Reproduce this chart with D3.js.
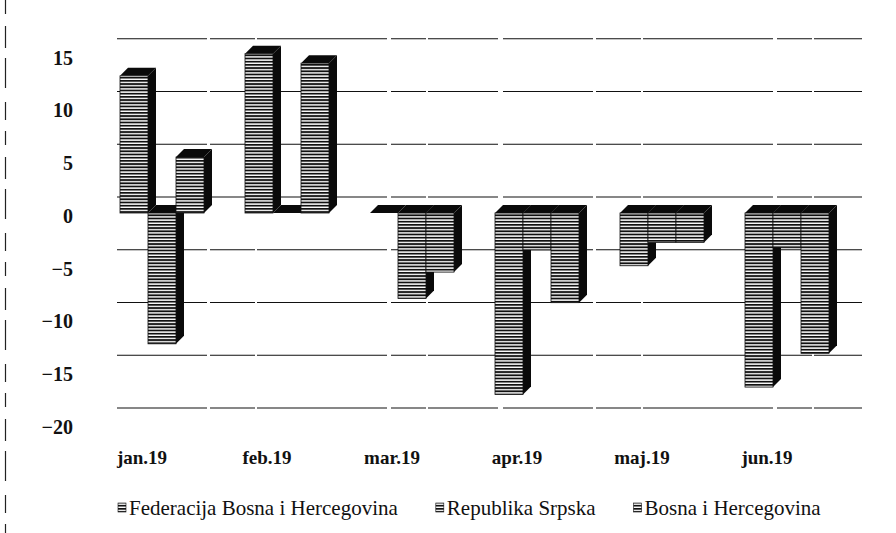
<!DOCTYPE html>
<html>
<head>
<meta charset="utf-8">
<script src="https://cdn.jsdelivr.net/npm/d3@7/dist/d3.min.js"></script>
<style>
  html, body { margin: 0; padding: 0; background: #fff; }
  svg { display: block; }
</style>
</head>
<body>
<svg id="chart" width="896" height="533"></svg>
<script>
const categories = ["jan.19", "feb.19", "mar.19", "apr.19", "maj.19", "jun.19"];
const seriesNames = ["Federacija Bosna i Hercegovina", "Republika Srpska", "Bosna i Hercegovina"];
const fbihValues = [13.0, 15.1, 0, -17.2, -5.0, -16.5];
const rsValues = [-12.4, 0, -8.1, -3.5, -2.8, -3.3];
const bihValues = [5.3, 14.2, -5.6, -8.5, -2.8, -13.3];
const yTickValues = [15, 10, 5, 0, -5, -10, -15, -20];

const seriesValues = [fbihValues, rsValues, bihValues];

const svg = d3.select("#chart");
const W = 896, H = 533;

// hatch pattern
const defs = svg.append("defs");
const pat = defs.append("pattern")
  .attr("id", "hatch").attr("patternUnits", "userSpaceOnUse")
  .attr("width", 6).attr("height", 3.2);
pat.append("rect").attr("width", 6).attr("height", 3.2).attr("fill", "#fff");
pat.append("rect").attr("y", 0).attr("width", 6).attr("height", 1.8).attr("fill", "#111");

// scales
const k = 10.55;
const zeroY = 213;
const y = d3.scaleLinear().domain([-20, 15]).range([zeroY + 20 * k, zeroY - 15 * k]);
const backDY = -16;
const x0 = d3.scaleBand().domain(categories).range([99.5, 849.5]).padding(0);
const x1 = d3.scaleBand().domain(d3.range(seriesNames.length)).range([20.5, 104.5]).padding(0);

const depthX = 8, depthY = -8;

// left dashed border (scan edge)
svg.append("line")
  .attr("x1", 5.5).attr("x2", 5.5).attr("y1", 0).attr("y2", H)
  .attr("stroke", "#222").attr("stroke-width", 1.2)
  .attr("stroke-dasharray", "14,12,22,10,30,14,18,11");

// gridlines on back wall
svg.append("g").selectAll("line")
  .data(yTickValues)
  .join("line")
  .attr("x1", 117).attr("x2", 862)
  .attr("y1", d => y(d) + backDY).attr("y2", d => y(d) + backDY)
  .attr("stroke", "#111").attr("stroke-width", 1.2)
  .attr("stroke-dasharray", "90,3,45,2,130,4,35,2,70,5");

// bars
const barsG = svg.append("g");
categories.forEach((c, ci) => {
  seriesValues.forEach((vals, si) => {
    const v = vals[ci];
    const bx = x0(c) + x1(si);
    const bw = x1.bandwidth();
    const yTop = Math.min(y(v), y(0));
    const yBot = Math.max(y(v), y(0));
    const g = barsG.append("g");
    g.append("path")
      .attr("d", `M${bx + bw},${yTop} L${bx + bw + depthX},${yTop + depthY} L${bx + bw + depthX},${yBot + depthY} L${bx + bw},${yBot} Z`)
      .attr("fill", "#0a0a0a");
    g.append("path")
      .attr("d", `M${bx},${yTop} L${bx + depthX},${yTop + depthY} L${bx + bw + depthX},${yTop + depthY} L${bx + bw},${yTop} Z`)
      .attr("fill", "#0a0a0a");
    if (yBot - yTop > 0.5) {
      g.append("rect")
        .attr("x", bx).attr("y", yTop)
        .attr("width", bw).attr("height", yBot - yTop)
        .attr("fill", "url(#hatch)")
        .attr("stroke", "#111").attr("stroke-width", 0.8);
    }
  });
});

// y axis labels
const yAxis = d3.axisLeft(y).tickValues(yTickValues).tickSize(0).tickPadding(0);
const yg = svg.append("g").attr("transform", "translate(73,3)").call(yAxis);
yg.select(".domain").remove();
yg.selectAll("text")
  .attr("font-family", "'Liberation Serif', 'Times New Roman', serif")
  .attr("font-weight", "bold").attr("font-size", 20).attr("fill", "#111");

// x axis labels
const xAxis = d3.axisBottom(x0).tickSize(0).tickPadding(3);
const xg = svg.append("g").attr("transform", "translate(-20,447)").call(xAxis);
xg.select(".domain").remove();
xg.selectAll("text")
  .attr("font-family", "'Liberation Serif', 'Times New Roman', serif")
  .attr("font-weight", "bold").attr("font-size", 19).attr("fill", "#111");

// legend
const legend = svg.append("g").attr("transform", "translate(0,508)");
let lx = 118;
seriesNames.forEach((name, i) => {
  const item = legend.append("g").attr("transform", `translate(${lx},0)`);
  item.append("rect").attr("x", 0).attr("y", -5).attr("width", 8).attr("height", 9)
    .attr("fill", "url(#hatch)").attr("stroke", "#111").attr("stroke-width", 0.6);
  const t = item.append("text").attr("x", 11).attr("y", 0).attr("dy", "0.35em")
    .attr("font-family", "'Liberation Serif', 'Times New Roman', serif")
    .attr("font-size", 21).attr("fill", "#111").text(name);
  lx += 11 + t.node().getComputedTextLength() + 38;
});
</script>
</body>
</html>
